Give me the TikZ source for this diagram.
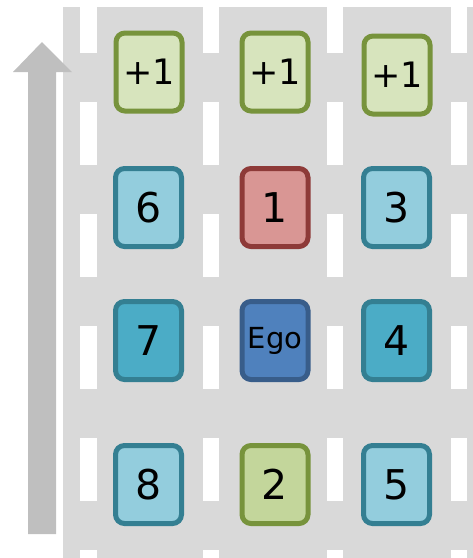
\documentclass[tikz,border=0pt]{standalone}
\usepackage{fontspec}
\setmainfont{DejaVu Sans}
\begin{document}
\begin{tikzpicture}[x=1pt,y=-1pt,
  car/.style={rounded corners=9pt,line width=5pt,minimum width=66pt,minimum height=78pt,inner sep=0pt,font=\fontsize{41}{41}\selectfont,text=black},
  plus/.style={car,fill=plusfill,draw=greenline,font=\fontsize{35}{35}\selectfont},
  light/.style={car,fill=lightblue,draw=tealline},
  dark/.style={car,fill=midblue,draw=tealline},
  lead/.style={car,fill=redfill,draw=redline},
  egostyle/.style={car,fill=egofill,draw=egoline,font=\fontsize{29}{29}\selectfont},
  rear/.style={car,fill=greenfill,draw=greenline}]
\definecolor{roadgray}{HTML}{D9D9D9}
\definecolor{arrowgray}{HTML}{BFBFBF}
\definecolor{plusfill}{HTML}{D7E4BD}
\definecolor{greenfill}{HTML}{C3D69B}
\definecolor{greenline}{HTML}{77933C}
\definecolor{lightblue}{HTML}{93CDDD}
\definecolor{midblue}{HTML}{4BACC6}
\definecolor{tealline}{HTML}{347F92}
\definecolor{redfill}{HTML}{D99694}
\definecolor{redline}{HTML}{8E3A38}
\definecolor{egofill}{HTML}{4F81BD}
\definecolor{egoline}{HTML}{385D8A}
\useasboundingbox (0,0) rectangle (473,558);
% road
\fill[roadgray] (63,7) rectangle (473,558);
\begin{scope}
\clip (63,7) rectangle (473,558);
\foreach \xa/\xb in {80/97,203/219,327/343,451/467}
  \foreach \ya in {-10,102,214,326,438,550}
    \fill[white] (\xa,\ya) rectangle (\xb,\ya+63);
\end{scope}
% direction arrow
\fill[arrowgray] (28,534) -- (28,72) -- (13,72) -- (42,42) -- (72,72) -- (56,72) -- (56,534) -- cycle;
% vehicles
\node[plus] (p1) at (149,72) {+1};
\node[plus] (p2) at (275,72) {+1};
\node[plus] (p3) at (397,75) {+1};
\node[light] (n6) at (148.5,207.5) {6};
\node[lead] (n1) at (275,207.5) {1};
\node[light] (n3) at (396.5,207.5) {3};
\node[dark] (n7) at (148.5,340.5) {7};
\node[egostyle] (ego) at (275,340.5) {Ego};
\node[dark] (n4) at (396.5,340.5) {4};
\node[light] (n8) at (148.5,484.5) {8};
\node[rear] (n2) at (275,484.5) {2};
\node[light] (n5) at (396.5,484.5) {5};
\end{tikzpicture}
\end{document}
